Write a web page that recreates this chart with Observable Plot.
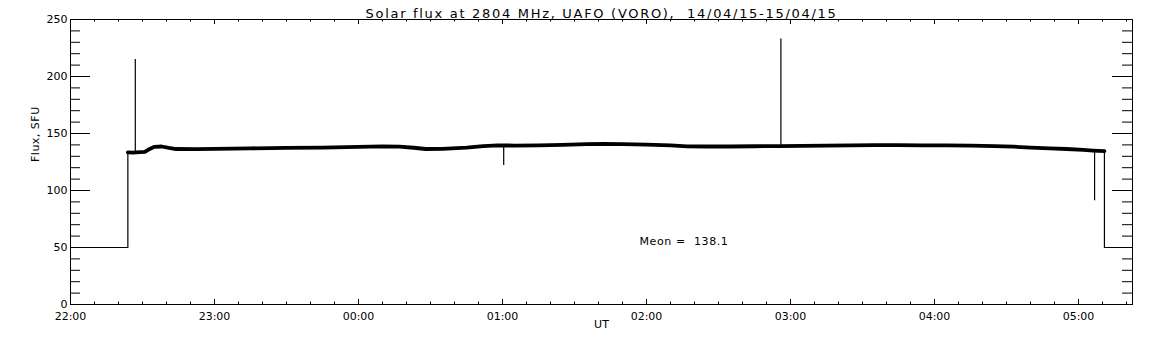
<!DOCTYPE html>
<html><head><meta charset="utf-8">
<script src="https://cdn.jsdelivr.net/npm/d3@7"></script>
<script src="https://cdn.jsdelivr.net/npm/@observablehq/plot@0.6"></script>
<style>body{margin:0;background:#fff} svg{display:block}</style>
</head><body><div id="chart"></div>
<script>
// ---- texts ----
const titleText = "Solar flux at 2804 MHz, UAFO (VORO),  14/04/15-15/04/15";
const yLabelText = "Flux, SFU";
const xLabelText = "UT";
const meanText = "Meon =  138.1";
const startTime = "2015-04-14T22:00:00Z";
const endTime = "2015-04-15T05:22:30Z";

// ---- off-sun (calibration) level, minutes after 22:00 UT ----
const offSeries = ["pre", "pre", "pre", "post", "post", "post"];
const offMinutes = [0, 23.9, 23.9, 430.8, 430.8, 442.5];
const offFlux = [50, 50, 133.5, 134.5, 50, 50];

// ---- solar flux trace, minutes after 22:00 UT ----
const fluxMinutes = [23.9, 26, 29, 31, 33, 35, 38, 41, 44, 52, 60, 75, 90, 105, 120, 130, 137, 143, 148, 155, 165, 172, 178, 185, 195, 205, 215, 222, 230, 240, 250, 257, 265, 275, 285, 295, 305, 315, 325, 335, 345, 355, 365, 375, 385, 393, 400, 408, 415, 422, 426, 430.8];
const fluxValues = [133.5, 133.3, 133.6, 133.8, 136.5, 138.3, 138.6, 137.4, 136.4, 136.3, 136.6, 137.0, 137.4, 137.6, 138.3, 138.7, 138.5, 137.5, 136.4, 136.6, 137.6, 139.0, 139.6, 139.4, 139.5, 140.0, 140.6, 140.9, 140.6, 140.3, 139.6, 138.7, 138.6, 138.6, 138.8, 139.0, 139.2, 139.4, 139.6, 139.8, 139.8, 139.6, 139.5, 139.4, 139.0, 138.4, 137.6, 137.0, 136.4, 135.6, 135.0, 134.5];

// ---- spikes ----
const spikeMinutes = [27, 180.5, 296, 426.7];
const spikeBase = [133.5, 139.5, 139.0, 135.0];
const spikePeak = [215, 122, 233, 91];

// ---- y ticks ----
const yMajorTicks = [0, 50, 100, 150, 200, 250];
const yMinorTicks = [10, 20, 30, 40, 60, 70, 80, 90, 110, 120, 130, 140, 160, 170, 180, 190, 210, 220, 230, 240];

const t0 = new Date(startTime), tEnd = new Date(endTime);
const toDate = m => new Date(+t0 + m * 60000);

const offData = offMinutes.map((m, i) => ({t: toDate(m), v: offFlux[i], s: offSeries[i]}));
const fluxData = fluxMinutes.map((m, i) => ({t: toDate(m), v: fluxValues[i]}));
const spikeData = spikeMinutes.map((m, i) => ({t: toDate(m), b: spikeBase[i], p: spikePeak[i]}));

const xMajor = d3.utcHour.range(t0, tEnd);
const xMinor = d3.utcMinute.every(10).range(t0, tEnd).filter(d => d.getUTCMinutes() !== 0);

const W = 1152, H = 345, mL = 70, mR = 20, mT = 19, mB = 41;
const innerW = W - mL - mR, innerH = H - mT - mB;

const chart = Plot.plot({
  width: W, height: H,
  marginLeft: mL, marginRight: mR, marginTop: mT, marginBottom: mB,
  style: {fontFamily: "DejaVu Sans", fontSize: "11px", background: "#fff", color: "#000", overflow: "visible"},
  x: {type: "utc", domain: [t0, tEnd]},
  y: {domain: [0, 250]},
  marks: [
    Plot.frame({stroke: "#000"}),
    Plot.axisX(xMajor, {tickSize: 0, tickPadding: 8, tickFormat: d3.utcFormat("%H:%M"), label: null}),
    Plot.axisY(yMajorTicks, {tickSize: 0, tickPadding: 3, label: null}),
    // x ticks bottom & top
    Plot.ruleX(xMajor, {x: d => d, insetTop: innerH - 5, stroke: "#000"}),
    Plot.ruleX(xMinor, {x: d => d, insetTop: innerH - 2.5, stroke: "#000"}),
    Plot.ruleX(xMajor, {x: d => d, insetBottom: innerH - 5, stroke: "#000"}),
    Plot.ruleX(xMinor, {x: d => d, insetBottom: innerH - 2.5, stroke: "#000"}),
    // y ticks left & right
    Plot.ruleY(yMajorTicks, {y: d => d, insetRight: innerW - 20, stroke: "#000"}),
    Plot.ruleY(yMinorTicks, {y: d => d, insetRight: innerW - 10, stroke: "#000"}),
    Plot.ruleY(yMajorTicks, {y: d => d, insetLeft: innerW - 20, stroke: "#000"}),
    Plot.ruleY(yMinorTicks, {y: d => d, insetLeft: innerW - 10, stroke: "#000"}),
    // data
    Plot.line(offData, {x: "t", y: "v", z: "s", stroke: "#000", strokeWidth: 1.2}),
    Plot.line(fluxData, {x: "t", y: "v", stroke: "#000", strokeWidth: 3.8}),
    Plot.ruleX(spikeData, {x: "t", y1: "b", y2: "p", stroke: "#000", strokeWidth: 1.2}),
    // texts
    Plot.text([titleText], {frameAnchor: "top", dy: -11, text: d => d, fontSize: 13}),
    Plot.text([yLabelText], {frameAnchor: "left", dx: -35, rotate: -90, text: d => d, fontSize: 11}),
    Plot.text([xLabelText], {frameAnchor: "bottom", dy: 23, text: d => d, fontSize: 11}),
    Plot.text([meanText], {frameAnchor: "bottom", dx: 38, dy: -60, textAnchor: "start", text: d => d, fontSize: 11})
  ]
});
// typographic tweaks to mimic the wide vector font of the original
d3.select(chart).selectAll("text").each(function() {
  const s = d3.select(this), t = s.text();
  s.style("white-space", "pre");
  if (t === titleText) s.style("letter-spacing", "1.7px");
  else if (t === meanText) s.style("letter-spacing", "0.6px");
  else if (t === yLabelText) s.style("letter-spacing", "0.5px");
});
document.getElementById("chart").append(chart);
</script>
</body></html>
